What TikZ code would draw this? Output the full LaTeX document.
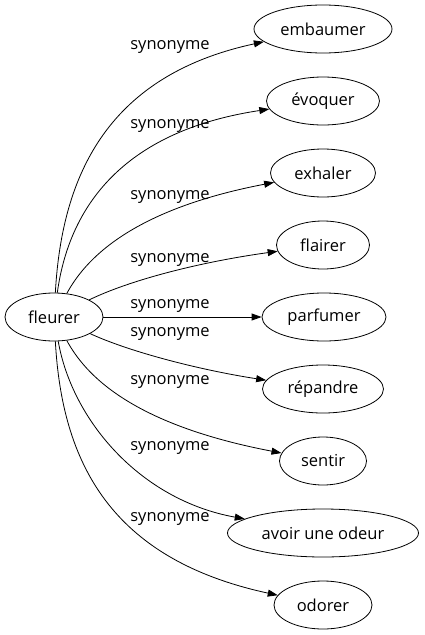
\documentclass[tikz,border=0pt]{standalone}
\usepackage{fontspec}
\setmainfont{Open Sans}
\usetikzlibrary{shapes.geometric,arrows.meta}
\begin{document}
\begin{tikzpicture}[x=1pt, y=-1pt, font=\fontsize{16.5}{20}\selectfont,
  word/.style={ellipse, draw, line width=0.8pt, minimum height=48pt, inner sep=0pt},
  syn/.style={-{Triangle[length=10pt,width=7pt]}, line width=0.8pt},
  lbl/.style={inner sep=0pt}]
  \useasboundingbox (0,0) rectangle (424,635);
  \node[word, minimum width=98pt] (fleurer) at (54,317) {fleurer};
  \node[word, minimum width=138pt] (embaumer) at (323,29) {embaumer};
  \node[word, minimum width=113pt] (evoquer) at (323,101) {évoquer};
  \node[word, minimum width=105pt] (exhaler) at (323,173) {exhaler};
  \node[word, minimum width=93pt] (flairer) at (323,245) {flairer};
  \node[word, minimum width=124pt] (parfumer) at (324,317) {parfumer};
  \node[word, minimum width=121pt] (repandre) at (323,389) {répandre};
  \node[word, minimum width=87pt] (sentir) at (323,461) {sentir};
  \node[word, minimum width=191pt] (odeur) at (323,533) {avoir une odeur};
  \node[word, minimum width=98pt] (odorer) at (323,605) {odorer};
  % edges, from the top down
  \draw[syn] (fleurer) .. controls (62,172) and (110,75) .. (embaumer);
  \draw[syn] (fleurer) .. controls (70,200) and (130,130) .. (evoquer);
  \draw[syn] (fleurer) .. controls (85,260) and (130,210) .. (exhaler);
  \draw[syn] (fleurer) .. controls (130,280) and (200,262) .. (flairer);
  \draw[syn] (fleurer) -- (parfumer);
  \draw[syn] (fleurer) .. controls (130,352) and (200,370) .. (repandre);
  \draw[syn] (fleurer) .. controls (85,374) and (130,424) .. (sentir);
  \draw[syn] (fleurer) .. controls (72,420) and (140,500) .. (odeur);
  \draw[syn] (fleurer) .. controls (62,462) and (110,559) .. (odorer);
  \node[lbl] (l1) at (170,47) {synonyme};
  \node[lbl] (l2) at (170,126) {synonyme};
  \node[lbl] (l3) at (170,197) {synonyme};
  \node[lbl] (l4) at (170,260) {synonyme};
  \node[lbl] (l5) at (170,306) {synonyme};
  \node[lbl] (l6) at (170,334) {synonyme};
  \node[lbl] (l7) at (170,382) {synonyme};
  \node[lbl] (l8) at (170,448) {synonyme};
  \node[lbl] (l9) at (170,519) {synonyme};
\end{tikzpicture}
\end{document}
